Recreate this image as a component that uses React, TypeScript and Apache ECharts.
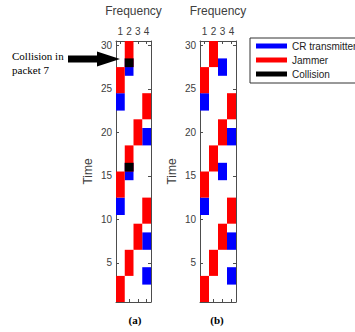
import React, { useEffect, useRef } from "react";
import * as echarts from "echarts";

// Jammer hops (frequency channel, start time, end time)
const jammerFreq = [1, 2, 3, 4, 1, 2, 3, 4, 1, 2];
const jammerStart = [0.5, 3.5, 6.5, 9.5, 12.5, 15.5, 18.5, 21.5, 24.5, 27.5];
const jammerEnd = [3.5, 6.5, 9.5, 12.5, 15.5, 18.5, 21.5, 24.5, 27.5, 30.5];

// CR transmitter packets
const crStart = [2.5, 6.5, 10.5, 14.5, 18.5, 22.5, 26.5];
const crEnd = [4.5, 8.5, 12.5, 16.5, 20.5, 24.5, 28.5];
const crFreqA = [4, 4, 1, 2, 4, 1, 2];
const crFreqB = [4, 4, 1, 3, 4, 1, 3];

// Collisions in panel (a)
const collisionFreq = [2, 2];
const collisionStart = [15.5, 27.5];
const collisionEnd = [16.5, 28.5];

const freqTicks = [1, 2, 3, 4];
const timeTicks = [5, 10, 15, 20, 25, 30];

const BLUE = "#0000ff";
const RED = "#ff0000";
const BLACK = "#000000";
const AXIS = "#4d4d4d";
const LABEL = "#404040";
const SANS = "'Liberation Sans', Arial, sans-serif";
const SERIF = "'Liberation Serif', 'Times New Roman', serif";

const zip = (f: number[], s: number[], e: number[]) => f.map((v, i) => [v, s[i], e[i]]);

const makeRender = (color: string) => (params: any, api: any) => {
  const f = api.value(0);
  const s = api.value(1);
  const e = api.value(2);
  const p1 = api.coord([f - 0.5, e]);
  const p2 = api.coord([f + 0.5, s]);
  return {
    type: "rect",
    shape: { x: p1[0], y: p1[1], width: p2[0] - p1[0], height: p2[1] - p1[1] },
    style: { fill: color },
  };
};

const grids = [
  { left: 116, top: 37, width: 35, height: 265 },
  { left: 200, top: 37, width: 36, height: 265 },
];

export default function App() {
  const ref = useRef<HTMLDivElement>(null);
  useEffect(() => {
    if (!ref.current) return;
    const chart = echarts.init(ref.current, null, { renderer: "svg" });

    const xAxes: any[] = [];
    const yAxes: any[] = [];
    grids.forEach((_, g) => {
      xAxes.push({
        gridIndex: g,
        type: "value",
        min: 0.5,
        max: 4.5,
        position: "top",
        name: "Frequency",
        nameLocation: "middle",
        nameGap: 24,
        nameTextStyle: { fontFamily: SANS, fontSize: 12, color: LABEL },
        axisLine: { show: true, lineStyle: { color: AXIS, width: 1 } },
        axisTick: { show: true, inside: true, length: 3, customValues: freqTicks, lineStyle: { color: AXIS } },
        axisLabel: { show: true, customValues: freqTicks, margin: 5, fontFamily: SANS, fontSize: 10, color: LABEL },
        splitLine: { show: false },
      });
      xAxes.push({
        gridIndex: g,
        type: "value",
        min: 0.5,
        max: 4.5,
        position: "bottom",
        axisLine: { show: true, lineStyle: { color: AXIS, width: 1 } },
        axisTick: { show: true, inside: true, length: 3, customValues: freqTicks, lineStyle: { color: AXIS } },
        axisLabel: { show: false },
        splitLine: { show: false },
      });
      yAxes.push({
        gridIndex: g,
        type: "value",
        min: 0.5,
        max: 30.5,
        position: "left",
        name: "Time",
        nameLocation: "middle",
        nameGap: 22,
        nameTextStyle: { fontFamily: SANS, fontSize: 12, color: LABEL },
        axisLine: { show: true, lineStyle: { color: AXIS, width: 1 } },
        axisTick: { show: true, inside: true, length: 3, customValues: timeTicks, lineStyle: { color: AXIS } },
        axisLabel: { show: true, customValues: timeTicks, margin: 4, fontFamily: SANS, fontSize: 10, color: LABEL },
        splitLine: { show: false },
      });
      yAxes.push({
        gridIndex: g,
        type: "value",
        min: 0.5,
        max: 30.5,
        position: "right",
        axisLine: { show: true, lineStyle: { color: AXIS, width: 1 } },
        axisTick: { show: true, inside: true, length: 3, customValues: timeTicks, lineStyle: { color: AXIS } },
        axisLabel: { show: false },
        splitLine: { show: false },
      });
    });

    const custom = (name: string, g: number, data: number[][], color: string, z: number) => ({
      type: "custom",
      name,
      xAxisIndex: g * 2,
      yAxisIndex: g * 2,
      data,
      renderItem: makeRender(color),
      itemStyle: { color },
      clip: true,
      z,
      silent: true,
    });

    const series = [
      custom("CR transmitter", 0, zip(crFreqA, crStart, crEnd), BLUE, 2),
      custom("Jammer", 0, zip(jammerFreq, jammerStart, jammerEnd), RED, 3),
      custom("Collision", 0, zip(collisionFreq, collisionStart, collisionEnd), BLACK, 4),
      custom("CR transmitter", 1, zip(crFreqB, crStart, crEnd), BLUE, 2),
      custom("Jammer", 1, zip(jammerFreq, jammerStart, jammerEnd), RED, 3),
    ];

    chart.setOption({
      animation: false,
      backgroundColor: "#ffffff",
      grid: grids.map((g) => ({ ...g, containLabel: false })),
      xAxis: xAxes,
      yAxis: yAxes,
      legend: {
        orient: "vertical",
        left: 250,
        top: 38,
        data: [
          { name: "CR transmitter", icon: "rect" },
          { name: "Jammer", icon: "rect" },
          { name: "Collision", icon: "rect" },
        ],
        itemWidth: 31,
        itemHeight: 5,
        itemGap: 2,
        padding: [2, 14, 3, 6],
        borderColor: "#333",
        borderWidth: 1,
        selectedMode: false,
        textStyle: { fontFamily: SANS, fontSize: 10, color: "#222", lineHeight: 12 },
      },
      series,
      graphic: [
        {
          type: "text",
          x: 12,
          y: 49,
          style: {
            text: "Collision in\npacket 7",
            font: `11px ${SERIF}`,
            lineHeight: 14,
            fill: "#000",
          },
        },
        {
          type: "polygon",
          shape: {
            points: [
              [68, 55.5],
              [97, 55.5],
              [97, 51.5],
              [120, 59],
              [97, 66.5],
              [97, 62.5],
              [68, 62.5],
            ],
          },
          style: { fill: "#000" },
          z: 10,
        },
        {
          type: "text",
          x: 135,
          y: 320,
          style: { text: "(a)", font: `bold 11px ${SERIF}`, fill: "#000", textAlign: "center", textVerticalAlign: "middle" },
        },
        {
          type: "text",
          x: 217,
          y: 320,
          style: { text: "(b)", font: `bold 11px ${SERIF}`, fill: "#000", textAlign: "center", textVerticalAlign: "middle" },
        },
      ],
    });
    return () => chart.dispose();
  }, []);
  return (
    <div
      ref={ref}
      style={{ position: "fixed", left: 0, top: 0, width: 355, height: 332, background: "#fff" }}
    />
  );
}
